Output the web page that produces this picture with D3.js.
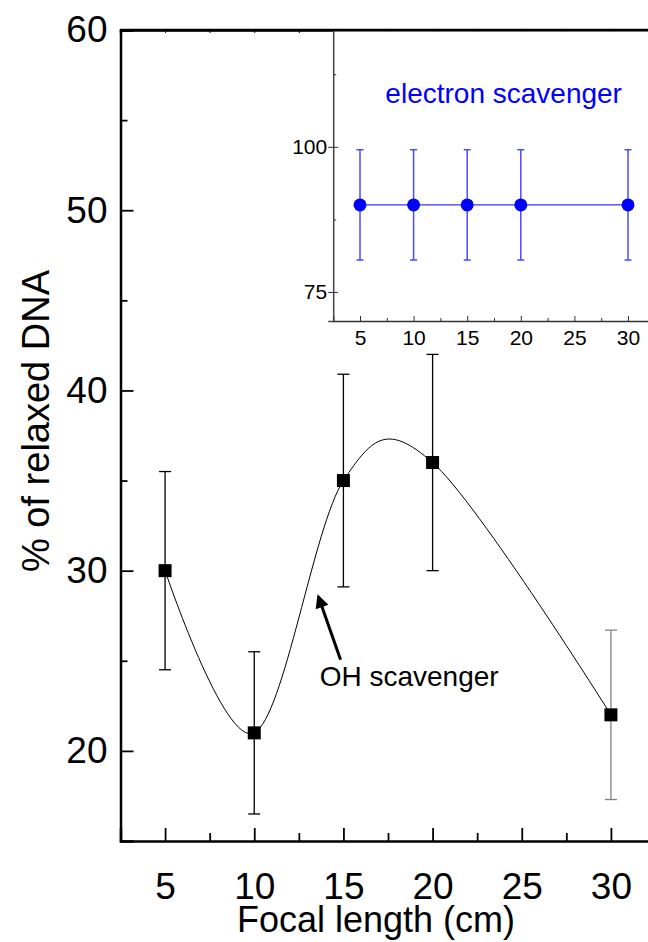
<!DOCTYPE html>
<html>
<head>
<meta charset="utf-8">
<style>
  body { margin: 0; background: #fff; }
  svg { display: block; font-family: "Liberation Sans", Arial, sans-serif; }
</style>
<script src="https://cdn.jsdelivr.net/npm/d3@7"></script>
</head>
<body>
<svg id="chart" width="648" height="942"></svg>
<script>
// main data: OH scavenger
var focal = [5, 10, 15, 20, 30];
var relaxed = [30, 21, 35, 36, 22];
var relaxedErr = [5.5, 4.5, 5.9, 6, 4.7];
// inset data: electron scavenger
var electron = [90, 90, 90, 90, 90];
var electronErr = [9.5, 9.5, 9.5, 9.5, 9.5];
// ticks
var xMajor = [5, 10, 15, 20, 25, 30];
var xMinor = [7.5, 12.5, 17.5, 22.5, 27.5];
var yMajor = [20, 30, 40, 50, 60];
var yMinor = [25, 35, 45, 55];
var insetYMajor = [75, 100];
var insetYMinor = [87.5, 112.5];

var svg = d3.select("#chart");

var x = d3.scaleLinear().domain([2.5, 32.5]).range([120.5, 655.5]);
var y = d3.scaleLinear().domain([15, 60]).range([841, 30]);

function noLabels(g) { g.selectAll("text").remove(); g.select(".domain").remove(); }

// main axes
var gx = svg.append("g").attr("transform", "translate(0,841)")
  .call(d3.axisBottom(x).tickValues(xMajor).tickSize(-13).tickPadding(32));
gx.select(".domain").attr("stroke-width", 2.5);
gx.selectAll("line").attr("stroke-width", 1.8);
gx.selectAll("text").attr("font-size", 37).attr("font-family", "Liberation Sans, Arial, sans-serif");

svg.append("g").attr("transform", "translate(0,841)")
  .call(d3.axisBottom(x).tickValues(xMinor).tickSize(-8))
  .call(noLabels).selectAll("line").attr("stroke-width", 1.8);

var gy = svg.append("g").attr("transform", "translate(120.5,0)")
  .call(d3.axisLeft(y).tickValues(yMajor).tickSize(-13).tickPadding(13));
gy.select(".domain").attr("stroke-width", 2.5);
gy.selectAll("line").attr("stroke-width", 1.8);
gy.selectAll("text").attr("font-size", 37).attr("font-family", "Liberation Sans, Arial, sans-serif");

svg.append("g").attr("transform", "translate(120.5,0)")
  .call(d3.axisLeft(y).tickValues(yMinor).tickSize(-7))
  .call(noLabels).selectAll("line").attr("stroke-width", 1.8);

var gt = svg.append("g").attr("transform", "translate(0,30)")
  .call(d3.axisTop(x).tickValues(xMajor.concat(xMinor)).tickSize(-3));
gt.selectAll("text").remove();
gt.select(".domain").attr("stroke-width", 2.5);

// smooth curve through the points
var line = d3.line()
  .x(function(d, i) { return x(focal[i]); })
  .y(function(d) { return y(d); })
  .curve(d3.curveCardinal.tension(0));
svg.append("path").attr("d", line(relaxed))
  .attr("fill", "none").attr("stroke", "#000").attr("stroke-width", 1);

// error bars
var eb = svg.append("g");
relaxed.forEach(function(v, i) {
  var c = i === 4 ? "#808080" : "#000";
  var cx = x(focal[i]);
  eb.append("line").attr("x1", cx).attr("x2", cx)
    .attr("y1", y(v - relaxedErr[i])).attr("y2", y(v + relaxedErr[i]))
    .attr("stroke", c).attr("stroke-width", 1.3);
  [v - relaxedErr[i], v + relaxedErr[i]].forEach(function(e) {
    eb.append("line").attr("x1", cx - 6).attr("x2", cx + 6)
      .attr("y1", y(e)).attr("y2", y(e))
      .attr("stroke", c).attr("stroke-width", 1.3);
  });
});

svg.append("g").selectAll("rect").data(relaxed).enter().append("rect")
  .attr("x", function(d, i) { return x(focal[i]) - 6.5; })
  .attr("y", function(d) { return y(d) - 6.5; })
  .attr("width", 13).attr("height", 13).attr("fill", "#000");

// arrow annotation
svg.append("defs").append("marker")
  .attr("id", "head").attr("viewBox", "0 0 10 10")
  .attr("refX", 8).attr("refY", 5)
  .attr("markerWidth", 5.5).attr("markerHeight", 4.5)
  .attr("markerUnits", "strokeWidth")
  .attr("orient", "auto")
  .append("path").attr("d", "M0,0 L10,5 L0,10 z").attr("fill", "#000");

svg.append("line")
  .attr("x1", x(14.84)).attr("y1", y(25.06))
  .attr("x2", x(13.6)).attr("y2", y(28.55))
  .attr("stroke", "#000").attr("stroke-width", 3)
  .attr("marker-end", "url(#head)");

svg.append("text").attr("x", x(13.67)).attr("y", y(23.6))
  .attr("font-size", 28).text("OH scavenger");

// axis titles
svg.append("text").attr("x", 376).attr("y", 932)
  .attr("text-anchor", "middle").attr("font-size", 36).text("Focal length (cm)");
svg.append("text").attr("transform", "translate(49,421) rotate(-90)")
  .attr("text-anchor", "middle").attr("font-size", 38).text("% of relaxed DNA");

// ---------- inset ----------
var xi = d3.scaleLinear().domain([2.5, 32.5]).range([333.2, 654.8]);
var yi = d3.scaleLinear().domain([70, 120]).range([321, 30.7]);

svg.append("rect").attr("x", 333).attr("y", 31.5).attr("width", 330).attr("height", 290)
  .attr("fill", "#fff");

var ix = svg.append("g").attr("transform", "translate(0,321)")
  .call(d3.axisBottom(xi).tickValues(xMajor).tickSize(-5).tickPadding(9));
ix.select(".domain").attr("stroke", "#333").attr("stroke-width", 1.5);
ix.selectAll("line").attr("stroke", "#333");
ix.selectAll("text").attr("font-size", 21).attr("font-family", "Liberation Sans, Arial, sans-serif");
svg.append("g").attr("transform", "translate(0,321)")
  .call(d3.axisBottom(xi).tickValues(xMinor).tickSize(-3))
  .call(noLabels).selectAll("line").attr("stroke", "#333");

var iy = svg.append("g").attr("transform", "translate(333.2,0)")
  .call(d3.axisLeft(yi).tickValues(insetYMajor).tickSize(5).tickPadding(1));
iy.select(".domain").attr("stroke", "#444").attr("stroke-width", 1.5);
iy.selectAll("line").attr("stroke", "#333");
iy.selectAll("text").attr("font-size", 21).attr("font-family", "Liberation Sans, Arial, sans-serif");
svg.append("g").attr("transform", "translate(333.2,0)")
  .call(d3.axisLeft(yi).tickValues(insetYMajor).tickSize(-5))
  .call(noLabels).selectAll("line").attr("stroke", "#333");
svg.append("g").attr("transform", "translate(333.2,0)")
  .call(d3.axisLeft(yi).tickValues(insetYMinor).tickSize(-3))
  .call(noLabels).selectAll("line").attr("stroke", "#333");

// main top border again over inset
svg.append("line").attr("x1", 120.5).attr("x2", 655).attr("y1", 30).attr("y2", 30)
  .attr("stroke", "#000").attr("stroke-width", 2.5);

var iline = d3.line()
  .x(function(d, i) { return xi(focal[i]); })
  .y(function(d) { return yi(d); });
svg.append("path").attr("d", iline(electron))
  .attr("fill", "none").attr("stroke", "#3434ff").attr("stroke-width", 1.2);

var ieb = svg.append("g").attr("stroke", "#4a4aff").attr("stroke-width", 1.5);
electron.forEach(function(v, i) {
  var cx = xi(focal[i]);
  ieb.append("line").attr("x1", cx).attr("x2", cx)
    .attr("y1", yi(v - electronErr[i])).attr("y2", yi(v + electronErr[i]));
  [v - electronErr[i], v + electronErr[i]].forEach(function(e) {
    ieb.append("line").attr("x1", cx - 3.5).attr("x2", cx + 3.5)
      .attr("y1", yi(e)).attr("y2", yi(e));
  });
});

svg.append("g").selectAll("circle").data(electron).enter().append("circle")
  .attr("cx", function(d, i) { return xi(focal[i]); })
  .attr("cy", function(d) { return yi(d); })
  .attr("r", 6.5).attr("fill", "#0000ff");

svg.append("text").attr("x", xi(18.4)).attr("y", yi(107.5))
  .attr("text-anchor", "middle").attr("font-size", 28).attr("fill", "#0000ff")
  .text("electron scavenger");
</script>
</body>
</html>
